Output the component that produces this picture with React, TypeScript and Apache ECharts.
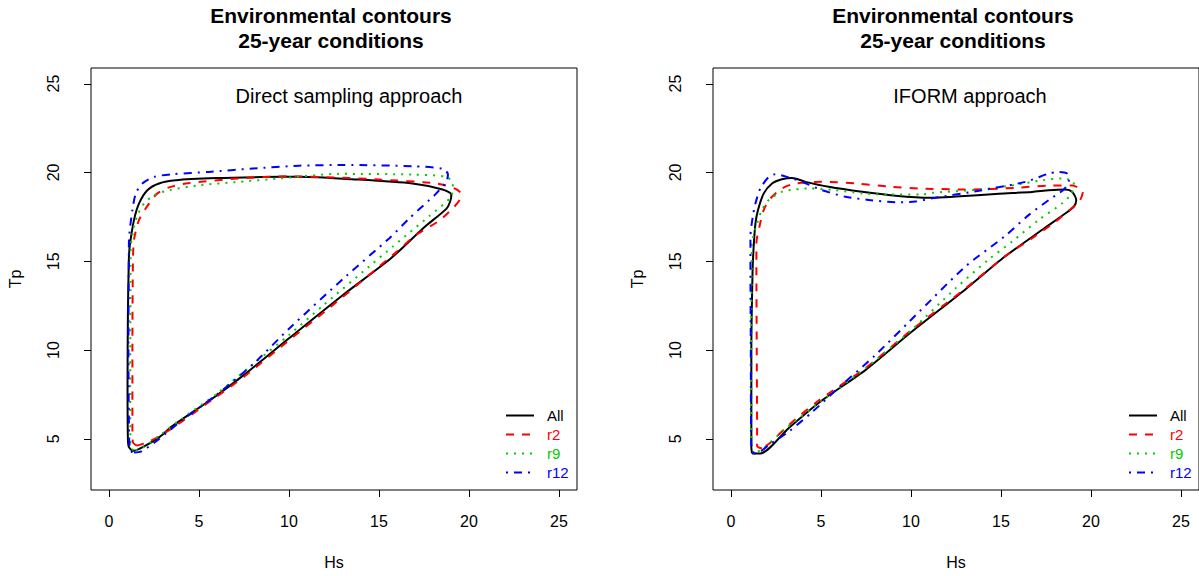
import React, { useEffect, useRef } from "react";
import * as echarts from "echarts";

const seriesNames = ["All", "r2", "r9", "r12"];
const seriesColors = ["#000000", "#FF0000", "#00CD00", "#0000FF"];
const seriesDash: any[] = ["solid", [8, 8], [2, 6], [2, 6, 8, 6]];
const xTicks = [0, 5, 10, 15, 20, 25];
const yTicks = [5, 10, 15, 20, 25];
const panelTitles = ["Direct sampling approach", "IFORM approach"];
const mainTitle1 = "Environmental contours";
const mainTitle2 = "25-year conditions";

// Direct sampling approach (left panel): [Hs, Tp]
const directAll = [
  [1.3, 4.32], [1.1, 4.55], [1.05, 5.0], [1.03, 8.0], [1.05, 12.0], [1.1, 15.0], [1.15, 15.83],
  [1.39, 17.33], [1.67, 18.26], [2.13, 19.0], [2.78, 19.38], [3.71, 19.56], [6.0, 19.68],
  [8.5, 19.74], [10.57, 19.76], [13.5, 19.62], [16.86, 19.38], [18.53, 19.04], [19.02, 18.75],
  [18.95, 18.35], [18.74, 17.95], [17.5, 16.9], [15.68, 15.18], [13.0, 13.1], [10.0, 10.66],
  [7.5, 8.6], [5.73, 7.26], [3.5, 5.7], [2.8, 5.1], [2.0, 4.6], [1.5, 4.35], [1.3, 4.32],
];
const directR2 = [
  [1.55, 4.62], [1.33, 4.8], [1.3, 5.5], [1.3, 10.0], [1.33, 15.0], [1.39, 16.2], [1.67, 17.33],
  [2.23, 18.26], [2.69, 18.82], [3.34, 19.16], [4.27, 19.38], [7.23, 19.66], [10.0, 19.78],
  [12.5, 19.72], [15.0, 19.6], [18.2, 19.38], [19.2, 19.1], [19.55, 18.8], [19.48, 18.45],
  [19.1, 17.98], [18.27, 17.23], [17.07, 16.49], [16.0, 15.55], [13.0, 13.0], [10.0, 10.55],
  [7.5, 8.5], [5.73, 7.2], [3.5, 5.6], [2.23, 4.84], [1.55, 4.62],
];
const directR9 = [
  [1.35, 4.35], [1.2, 4.6], [1.18, 8.0], [1.2, 15.0], [1.21, 15.83], [1.4, 17.0], [1.63, 17.7],
  [1.95, 18.26], [2.5, 18.72], [3.34, 19.0], [5.0, 19.28], [7.23, 19.47], [9.46, 19.66],
  [12.8, 19.92], [16.88, 19.88], [18.74, 19.75], [19.1, 19.38], [19.0, 18.63], [17.8, 17.55],
  [16.5, 16.45], [15.77, 15.83], [14.47, 14.72], [12.0, 12.6], [10.0, 10.85], [8.0, 9.2],
  [6.0, 7.55], [4.0, 6.1], [2.5, 4.95], [1.7, 4.4], [1.35, 4.35],
];
const directR12 = [
  [1.3, 4.22], [1.18, 4.4], [1.12, 5.0], [1.08, 10.0], [1.1, 15.0], [1.11, 16.2], [1.3, 17.89],
  [1.49, 18.82], [1.85, 19.38], [2.5, 19.75], [3.52, 19.9], [5.56, 20.03], [8.0, 20.22],
  [10.57, 20.38], [13.0, 20.42], [16.88, 20.35], [18.55, 20.2], [18.83, 19.9], [18.74, 19.47],
  [18.09, 18.72], [17.8, 18.45], [16.69, 17.42], [15.58, 16.3], [13.17, 14.16], [10.0, 11.2],
  [8.0, 9.2], [6.0, 7.5], [4.0, 6.0], [2.6, 4.85], [1.8, 4.3], [1.3, 4.22],
];

// IFORM approach (right panel): [Hs, Tp]
const iformAll = [
  [1.17, 4.18], [1.13, 4.5], [1.13, 10.0], [1.2, 14.5], [1.26, 15.83], [1.36, 17.14], [1.5, 17.89],
  [1.82, 18.82], [2.28, 19.38], [2.83, 19.62], [3.39, 19.69], [4.14, 19.47], [5.43, 19.19],
  [7.28, 18.91], [9.14, 18.69], [11.0, 18.57], [12.5, 18.64], [14.88, 18.8], [16.73, 18.9],
  [17.66, 19.0], [18.59, 19.04], [18.95, 18.91], [19.18, 18.45], [19.05, 18.07], [18.59, 17.7],
  [17.29, 16.77], [15.2, 15.25], [13.0, 13.4], [10.0, 11.0], [7.5, 8.9], [4.97, 7.1],
  [3.2, 5.6], [1.63, 4.18], [1.17, 4.18],
];
const iformR2 = [
  [1.72, 4.46], [1.45, 4.6], [1.45, 5.5], [1.43, 10.0], [1.41, 15.0], [1.41, 16.02], [1.58, 16.95],
  [1.82, 17.89], [2.19, 18.54], [2.83, 19.1], [3.58, 19.38], [5.06, 19.47], [6.92, 19.38],
  [8.95, 19.19], [10.43, 19.1], [13.03, 19.04], [15.81, 19.13], [17.66, 19.26], [18.95, 19.26],
  [19.55, 18.91], [19.4, 18.45], [19.14, 18.17], [18.03, 17.23], [16.73, 16.3], [15.25, 15.3],
  [13.0, 13.45], [10.0, 11.1], [7.5, 9.0], [4.87, 7.16], [3.2, 5.77], [2.2, 4.8], [1.72, 4.46],
];
const iformR9 = [
  [1.3, 4.2], [1.13, 4.5], [1.13, 10.0], [1.15, 15.0], [1.17, 16.02], [1.45, 17.14], [1.72, 17.89],
  [2.1, 18.45], [2.83, 18.91], [3.58, 19.04], [4.32, 19.1], [5.8, 19.0], [7.28, 18.82],
  [8.77, 18.76], [10.62, 18.76], [11.17, 18.85], [13.95, 19.05], [15.81, 19.3], [17.29, 19.56],
  [18.4, 19.66], [19.05, 19.45], [18.92, 18.82], [18.4, 18.26], [17.1, 17.33], [15.62, 16.11],
  [14.32, 15.1], [12.5, 13.5], [10.0, 11.1], [7.5, 9.0], [5.0, 7.1], [3.0, 5.55], [1.8, 4.45],
  [1.3, 4.2],
];
const iformR12 = [
  [1.26, 4.18], [1.13, 4.5], [1.1, 10.0], [1.08, 15.0], [1.08, 16.39], [1.21, 17.51], [1.36, 18.26],
  [1.63, 19.1], [2.1, 19.75], [2.47, 19.9], [3.02, 19.78], [3.95, 19.47], [5.06, 19.0],
  [6.36, 18.63], [7.65, 18.45], [9.14, 18.32], [10.25, 18.36], [11.17, 18.54], [13.95, 19.0],
  [16.36, 19.47], [17.66, 19.94], [18.21, 20.03], [18.65, 19.95], [18.77, 19.56], [18.5, 19.05],
  [17.66, 18.45], [16.55, 17.61], [15.2, 16.4], [13.03, 14.71], [10.5, 12.2], [8.0, 9.7],
  [6.0, 7.9], [4.5, 6.5], [3.2, 5.4], [2.1, 4.65], [1.5, 4.2], [1.26, 4.18],
];

const panels = [
  [directAll, directR2, directR9, directR12],
  [iformAll, iformR2, iformR9, iformR12],
];

const FONT = '"Liberation Sans", Arial, Helvetica, sans-serif';

// plotting ranges (R extends the limits by 4%)
const X_MIN = -1, X_MAX = 26;
const Y_MIN = 2.12, Y_MAX = 25.88;
const TICK_LEN = 7;

export default function App() {
  const ref = useRef<HTMLDivElement>(null);
  useEffect(() => {
    if (!ref.current) return;
    const chart = echarts.init(ref.current, null, { renderer: "svg" });
    const boxLefts = [91, 713];
    const txt = { fontSize: 16, color: "#000", fontFamily: FONT };

    const grid = boxLefts.map((bl) => ({
      left: bl, top: 68, width: 486, height: 422,
      show: true, borderColor: "#000", borderWidth: 1, backgroundColor: "transparent",
    }));
    const xAxis = boxLefts.map((_, i) => ({
      gridIndex: i, type: "value", min: X_MIN, max: X_MAX,
      axisLine: { show: false, onZero: false }, axisTick: { show: false }, splitLine: { show: false },
      axisLabel: { customValues: xTicks, margin: 23, ...txt },
      name: "Hs", nameLocation: "middle", nameGap: 64, nameTextStyle: txt,
    }));
    const yAxis = boxLefts.map((_, i) => ({
      gridIndex: i, type: "value", min: Y_MIN, max: Y_MAX,
      axisLine: { show: false, onZero: false }, axisTick: { show: false }, splitLine: { show: false },
      axisLabel: { customValues: yTicks, rotate: 90, margin: 30, ...txt },
      name: "Tp", nameLocation: "middle", nameGap: 68, nameTextStyle: txt,
    }));

    const series: any[] = [];
    panels.forEach((sets, p) => {
      sets.forEach((data, k) => {
        series.push({
          type: "line",
          name: seriesNames[k],
          xAxisIndex: p,
          yAxisIndex: p,
          data,
          showSymbol: false,
          symbol: "none",
          smooth: 0.25,
          lineStyle: { color: seriesColors[k], width: 2, type: seriesDash[k] },
          itemStyle: { color: seriesColors[k] },
        });
      });
    });
    const legendData = seriesNames.map((n, k) => ({ name: n, textStyle: { color: seriesColors[k] } }));
    const legend = [505, 1128].map((left) => ({
      left,
      top: 408,
      padding: 0,
      orient: "vertical",
      itemWidth: 28,
      itemHeight: 14,
      itemGap: 4,
      selectedMode: false,
      itemStyle: { opacity: 0 },
      data: legendData,
      textStyle: { fontSize: 15, lineHeight: 14, fontFamily: FONT, padding: [0, 0, 0, 8] },
    }));
    const titleX = [331, 953];
    const subX = [349, 970];
    const graphic: any[] = [];
    [0, 1].forEach((i) => {
      graphic.push({
        type: "text", x: titleX[i], y: 15,
        style: { text: mainTitle1, fill: "#000", font: `bold 21px ${FONT}`, align: "center", verticalAlign: "middle" },
      });
      graphic.push({
        type: "text", x: titleX[i], y: 40,
        style: { text: mainTitle2, fill: "#000", font: `bold 21px ${FONT}`, align: "center", verticalAlign: "middle" },
      });
      graphic.push({
        type: "text", x: subX[i], y: 96,
        style: { text: panelTitles[i], fill: "#000", font: `20px ${FONT}`, align: "center", verticalAlign: "middle" },
      });
    });
    chart.setOption({
      animation: false,
      backgroundColor: "#fff",
      grid,
      xAxis,
      yAxis,
      legend,
      series,
      graphic,
    });

    // R-style outward tick marks, positioned through the axis scales
    const tickEls: any[] = [];
    [0, 1].forEach((p) => {
      const finder = { xAxisIndex: p, yAxisIndex: p };
      xTicks.forEach((v) => {
        const pt = chart.convertToPixel(finder as any, [v, Y_MIN]) as number[];
        const x = Math.round(pt[0]) + 0.5;
        const y = Math.round(pt[1]);
        tickEls.push({
          type: "line", silent: true, z: 100,
          shape: { x1: x, y1: y, x2: x, y2: y + TICK_LEN },
          style: { stroke: "#000", lineWidth: 1 },
        });
      });
      yTicks.forEach((v) => {
        const pt = chart.convertToPixel(finder as any, [X_MIN, v]) as number[];
        const x = Math.round(pt[0]);
        const y = Math.round(pt[1]) + 0.5;
        tickEls.push({
          type: "line", silent: true, z: 100,
          shape: { x1: x, y1: y, x2: x - TICK_LEN, y2: y },
          style: { stroke: "#000", lineWidth: 1 },
        });
      });
    });
    chart.setOption({ graphic: graphic.concat(tickEls) });
    return () => chart.dispose();
  }, []);
  return (
    <div
      ref={ref}
      style={{ position: "fixed", left: 0, top: 0, width: 1199, height: 576, background: "#fff" }}
    />
  );
}
